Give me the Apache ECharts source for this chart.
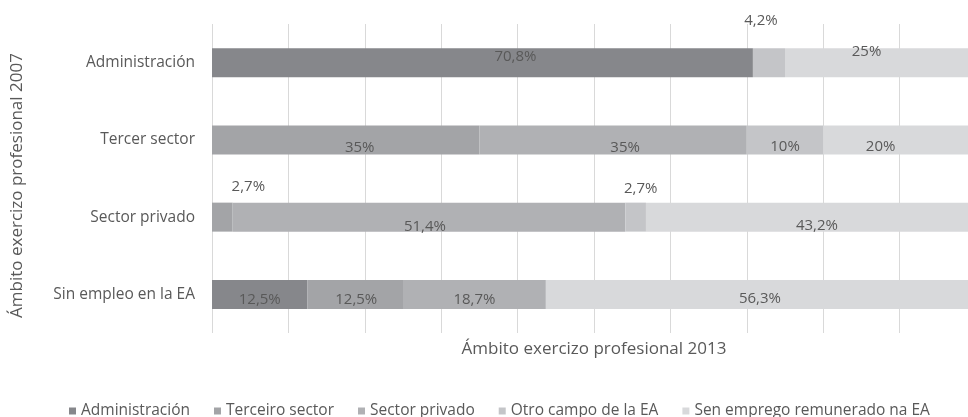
<!DOCTYPE html>
<html>
<head>
<meta charset="utf-8">
<script src="https://cdn.jsdelivr.net/npm/echarts@6/dist/echarts.min.js"></script>
<style>
  html, body { margin: 0; padding: 0; background: #fff; overflow: hidden; }
  /* the plot runs past the right edge of the picture: 100% sits at x = 976 */
  #chart { width: 976px; height: 417px; }
</style>
</head>
<body>
<div id="chart"></div>
<script>
const categories = ["Administración", "Tercer sector", "Sector privado", "Sin empleo en la EA"];

const seriesNames = [
  "Administración",
  "Terceiro sector",
  "Sector privado",
  "Otro campo de la EA",
  "Sen emprego remunerado na EA",
];

// one array per series, in category order (0 = no segment)
const administracion = [70.8, 0, 0, 12.5];
const terceiroSector = [0, 35, 2.7, 12.5];
const sectorPrivado = [0, 35, 51.4, 18.7];
const otroCampo = [4.2, 10, 2.7, 0];
const senEmprego = [25, 20, 43.2, 56.3];

const seriesValues = [administracion, terceiroSector, sectorPrivado, otroCampo, senEmprego];

const colors = ["#86878b", "#a3a4a7", "#b0b1b4", "#c4c5c8", "#d8d9db"];
const textColor = "#595959";
const font = "Open Sans";

// label nudges [dx, dy] from the segment centre, per category row and series
const labelNudge = [
  [[33, -6], null, null, [-8, -42], [-14, -11]],
  [null, [14, 8], [12, 8], [0, 7], [-19, 7]],
  [null, [26, -30], [-4, 10], [5, -28], [6, 9]],
  [[0, 5], [1, 5], [0, 5], null, [-1, 4]],
];

function pct(value) {
  return String(value).replace(".", ",") + "%";
}

const chart = echarts.init(document.getElementById("chart"), null, { renderer: "canvas" });

chart.setOption({
  animation: false,
  color: colors,
  textStyle: { fontFamily: font, color: textColor },
  grid: { left: 212, top: 24, right: 0, height: 309, containLabel: false },
  legend: {
    top: 398,
    left: 64,
    itemWidth: 7,
    itemHeight: 7,
    itemGap: 24,
    icon: "rect",
    textStyle: { fontFamily: font, fontSize: 15.5, color: textColor },
    data: seriesNames,
  },
  xAxis: {
    type: "value",
    min: 0,
    max: 100,
    interval: 10,
    name: "Ámbito exercizo profesional 2013",
    nameLocation: "middle",
    nameGap: 8,
    nameTextStyle: { fontFamily: font, fontSize: 17, color: textColor, verticalAlign: "top" },
    axisLabel: { show: false },
    axisLine: { show: false },
    axisTick: { show: false },
    splitLine: { lineStyle: { color: "#d9d9d9", width: 1 } },
  },
  yAxis: {
    type: "category",
    inverse: true,
    data: categories,
    name: "Ámbito exercizo profesional 2007",
    nameLocation: "middle",
    nameGap: 186,
    nameTextStyle: { fontFamily: font, fontSize: 17, color: textColor, padding: [0, 14, 0, 0] },
    axisLine: { show: false },
    axisTick: { show: false },
    axisLabel: { margin: 17, fontFamily: font, fontSize: 15.5, color: textColor },
  },
  series: seriesNames.map((name, s) => ({
    name,
    type: "bar",
    stack: "total",
    barWidth: 29,
    data: seriesValues[s].map((v, r) => {
      if (!v) return "-";
      const nudge = labelNudge[r][s] || [0, 0];
      return { value: v, label: { offset: nudge } };
    }),
    label: {
      show: true,
      position: "inside",
      fontFamily: font,
      fontSize: 15,
      color: textColor,
      formatter: (p) => pct(p.value),
    },
  })),
});
</script>
</body>
</html>
